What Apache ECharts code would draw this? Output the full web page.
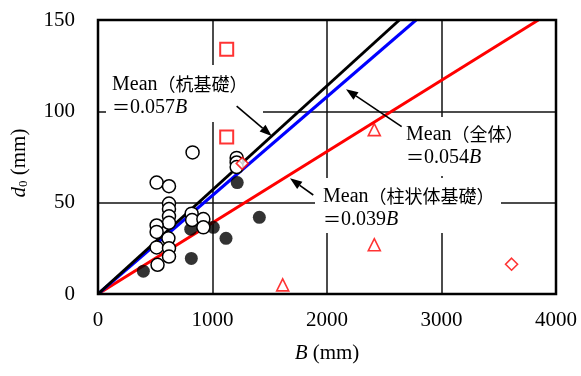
<!DOCTYPE html>
<html><head><meta charset="utf-8">
<script src="https://cdn.jsdelivr.net/npm/echarts@6/dist/echarts.min.js"></script>
<style>html,body{margin:0;padding:0;background:#fff}#c{width:581px;height:376px}</style>
</head><body><div id="c"></div>
<script>
// ---- data ----
const xTicks = [0, 1000, 2000, 3000, 4000];
const yTicks = [0, 50, 100, 150];
// open circles (B, d0)
const openCircles = [
  [512, 61], [620, 59], [826, 77.5], [620, 49.5], [620, 46.5], [620, 42.5], [620, 39],
  [512, 37.5], [512, 34], [615, 30.5], [512, 25.5], [620, 25], [620, 20.5], [520, 16],
  [818, 44], [822, 40.5], [920, 41], [920, 36.5], [1211, 74.5], [1211, 72], [1211, 69.5]
];
// filled circles
const filledCircles = [
  [396, 12.5], [810, 35.5], [815, 19.5], [1007, 36.5], [1118, 30.5], [1216, 61], [1409, 42]
];
const redSquares = [[1124, 134], [1124, 86]];
const redDiamonds = [[1260, 71.5], [3612, 16.3]];
const redTriangles = [[2413, 90], [2413, 27], [1613, 5]];
// mean lines (end points where they leave the frame at d0 = 150)
const linePile = [[0, 0], [2632, 150]];    // 0.057B
const lineAll = [[0, 0], [2778, 150]];     // 0.054B
const lineColumn = [[0, 0], [3846, 150]];  // 0.039B
// annotation texts
const labelPile = ['Mean', '（杭基礎）', '0.057'];
const labelAll = ['Mean', '（全体）', '0.054'];
const labelColumn = ['Mean', '（柱状体基礎）', '0.039'];
// arrows [tail, head] in data units
const arrowPile = [[1211, 102.9], [1517, 86.5]];
const arrowAll = [[2652, 91.6], [2166, 112.1]];
const arrowColumn = [[1880, 54.2], [1677, 63.3]];

const SERIF = '"Liberation Serif","DejaVu Serif",serif';
const CJK = '"Noto Sans CJK JP","Liberation Serif",serif';
const rich = {
  lat: {fontFamily: SERIF, fontSize: 20, color: '#000'},
  cjk: {fontFamily: CJK, fontSize: 18, color: '#000'},
  it: {fontFamily: SERIF, fontSize: 20, fontStyle: 'italic', color: '#000'}
};
function labelText(l) {
  return '{lat|' + l[0] + '}{cjk|' + l[1] + '}\n{cjk|＝}{lat|' + l[2] + '}{it|B}';
}

const chart = echarts.init(document.getElementById('c'), null, {renderer: 'canvas'});
const markerBase = {type: 'scatter', z: 5, animation: false};
const option = {
  backgroundColor: '#fff',
  animation: false,
  grid: {left: 98, right: 25, top: 20, bottom: 82},
  xAxis: {
    type: 'value', min: xTicks[0], max: xTicks[xTicks.length - 1], interval: 1000,
    axisLine: {show: false},
    axisTick: {show: false},
    splitLine: {show: true, lineStyle: {color: '#111', width: 1.5}},
    axisLabel: {fontFamily: SERIF, fontSize: 21, color: '#000', margin: 16, formatter: v => String(v)},
    name: '{it|B}{n| (mm)}', nameLocation: 'middle', nameGap: 49,
    nameTextStyle: {rich: {it: {fontFamily: SERIF, fontSize: 21, fontStyle: 'italic', color: '#000'}, n: {fontFamily: SERIF, fontSize: 21, color: '#000'}}}
  },
  yAxis: {
    type: 'value', min: yTicks[0], max: yTicks[yTicks.length - 1], interval: 50,
    axisLine: {show: false},
    axisTick: {show: false},
    splitLine: {show: true, lineStyle: {color: '#111', width: 1.5}},
    axisLabel: {fontFamily: SERIF, fontSize: 21, color: '#000', margin: 23, formatter: v => String(v)},
    name: '{it|d}{sub|0}{n| (mm)}', nameLocation: 'middle', nameGap: 68,
    nameTextStyle: {padding: [0, 0, 0, -12], rich: {
      it: {fontFamily: SERIF, fontSize: 21, fontStyle: 'italic', color: '#000'},
      sub: {fontFamily: SERIF, fontSize: 13, color: '#000', padding: [8, 0, 0, 0]},
      n: {fontFamily: SERIF, fontSize: 21, color: '#000'}
    }}
  },
  series: [
    {type: 'line', data: lineColumn, showSymbol: false, lineStyle: {color: '#ff0000', width: 3}, z: 3, animation: false},
    {type: 'line', data: lineAll, showSymbol: false, lineStyle: {color: '#0000ff', width: 3}, z: 3, animation: false},
    {type: 'line', data: linePile, showSymbol: false, lineStyle: {color: '#000', width: 3}, z: 3, animation: false},
    Object.assign({}, markerBase, {data: filledCircles, symbol: 'circle', symbolSize: 13, itemStyle: {color: '#000'}}),
    Object.assign({}, markerBase, {data: openCircles, symbol: 'circle', symbolSize: 13, itemStyle: {color: '#fff', borderColor: '#000', borderWidth: 1.5, opacity: 1}}),
    Object.assign({}, markerBase, {data: redSquares, symbol: 'rect', symbolSize: 13, itemStyle: {color: '#fff', borderColor: '#ff0000', borderWidth: 2}}),
    Object.assign({}, markerBase, {data: redDiamonds, symbol: 'diamond', symbolSize: 12, itemStyle: {color: '#fff', borderColor: '#ff0000', borderWidth: 1.6}}),
    Object.assign({}, markerBase, {data: redTriangles, symbol: 'triangle', symbolSize: 12, itemStyle: {color: '#fff', borderColor: '#ff0000', borderWidth: 1.6}})
  ]
};
chart.setOption(option);

const toPx = p => chart.convertToPixel({gridIndex: 0}, p);
// annotation boxes (white background hides the grid lines behind the text)
function box(x, y, w, h, textX, textY, l) {
  return [
    {type: 'rect', z: 10, shape: {x: x, y: y, width: w, height: h}, style: {fill: '#fff'}},
    {type: 'text', z: 11, x: textX, y: textY, style: {text: labelText(l), rich: rich, lineHeight: 23, fill: '#000'}}
  ];
}
function arrow(a) {
  const p0 = toPx(a[0]), p1 = toPx(a[1]);
  const dx = p1[0] - p0[0], dy = p1[1] - p0[1];
  const L = Math.hypot(dx, dy), ux = dx / L, uy = dy / L;
  const hl = 12, hw = 4.5;
  const bx = p1[0] - ux * hl, by = p1[1] - uy * hl;
  return [
    {type: 'line', z: 20, shape: {x1: p0[0], y1: p0[1], x2: bx, y2: by}, style: {stroke: '#000', lineWidth: 1.6}},
    {type: 'polygon', z: 20, shape: {points: [[p1[0], p1[1]], [bx - uy * hw, by + ux * hw], [bx + uy * hw, by - ux * hw]]}, style: {fill: '#000'}}
  ];
}
// plot frame drawn on top
const gx0 = toPx([xTicks[0], yTicks[0]]);
const gx1 = toPx([xTicks[xTicks.length - 1], yTicks[yTicks.length - 1]]);
const frame = {type: 'rect', z: 30, shape: {x: gx0[0], y: gx1[1], width: gx1[0] - gx0[0], height: gx0[1] - gx1[1]},
  style: {fill: 'none', stroke: '#000', lineWidth: 2.5}};
chart.setOption({graphic: [].concat(
  box(106, 65, 157, 57, 112, 73, labelPile),
  box(400, 117, 124, 59, 406, 123, labelAll),
  box(315, 178, 186, 55, 323, 185, labelColumn),
  arrow(arrowPile), arrow(arrowAll), arrow(arrowColumn),
  [frame]
)});
</script></body></html>
